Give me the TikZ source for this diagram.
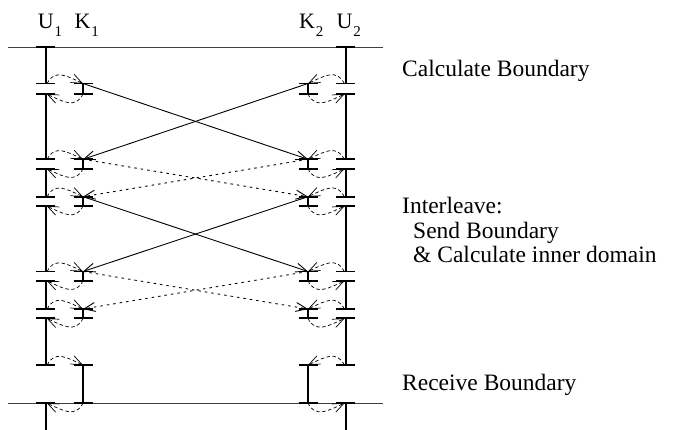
\documentclass[tikz,border=0pt]{standalone}
\usepackage{fontspec}
\setmainfont{Liberation Serif}
\usetikzlibrary{arrows.meta}
\begin{document}
\begin{tikzpicture}[x=1pt,y=1pt,
  rail/.style={line width=0.8pt, black!75},
  bar/.style={line width=1.8pt},
  stem/.style={line width=1.8pt},
  tip/.style={-{Straight Barb[length=11pt,width=9pt]}},
  dcurve/.style={tip, line width=0.7pt, dash pattern=on 3.5pt off 2.5pt},
  sline/.style={tip, line width=0.9pt},
  dline/.style={tip, line width=0.9pt, dash pattern=on 2.5pt off 4pt},
  txt/.style={anchor=base west, inner sep=0pt, font=\fontsize{23.5}{27}\selectfont},
  lab/.style={anchor=base, inner sep=0pt, font=\fontsize{22}{26}\selectfont},
]
\useasboundingbox (0,0) rectangle (693,-430);

\foreach \n/\x in {U1/45.7,K1/83,K2/308,U2/345.7}{
  \foreach \l/\y in {T/47,At/83.5,Ab/94,Bt/159.3,Bb/168.7,Ct/196.7,Cb/206,Dt/271.5,Db/280.7,Et/309,Eb/318.3,F/365,G/403,Z/431}{
    \coordinate (\n\l) at (\x,-\y);
  }
}
\coordinate (railTL) at (8,-47); \coordinate (railTR) at (383,-47);
\coordinate (railBL) at (8,-403); \coordinate (railBR) at (383,-403);
\draw[rail] (railTL) -- (railTR);
\draw[rail] (railBL) -- (railBR);

\foreach \n in {U1,U2}{\foreach \l in {T,At,Ab,Bt,Bb,Ct,Cb,Dt,Db,Et,Eb,F,G}{\draw[bar] ([xshift=-9.5pt]\n\l) -- ([xshift=9.5pt]\n\l);}}
\foreach \n in {K1,K2}{\foreach \l in {At,Ab,Bt,Bb,Ct,Cb,Dt,Db,Et,Eb,F,G}{\draw[bar] ([xshift=-9.5pt]\n\l) -- ([xshift=9.5pt]\n\l);}}

\foreach \n in {U1,U2}{\foreach \a/\b in {T/At,Ab/Bt,Bb/Ct,Cb/Dt,Db/Et,Eb/F,G/Z}{\draw[stem] (\n\a) -- (\n\b);}}
\foreach \n in {K1,K2}{\foreach \a/\b in {At/Ab,Bt/Bb,Ct/Cb,Dt/Db,Et/Eb,F/G}{\draw[stem] (\n\a) -- (\n\b);}}

\foreach \l in {A,B,C,D,E}{
  \draw[dcurve] ([xshift=1.5pt]U1\l t) to[out=65,in=155,looseness=1.2] (K1\l t);
  \draw[dcurve] (K1\l b) to[out=-115,in=-25,looseness=1.2] ([xshift=1pt]U1\l b);
  \draw[dcurve] ([xshift=-1.5pt]U2\l t) to[out=115,in=25,looseness=1.2] (K2\l t);
  \draw[dcurve] (K2\l b) to[out=-65,in=-155,looseness=1.2] ([xshift=-1pt]U2\l b);
}
\draw[dcurve] ([xshift=1.5pt]U1F) to[out=65,in=155,looseness=1.2] (K1F);
\draw[dcurve] ([xshift=-1.5pt]U2F) to[out=115,in=25,looseness=1.2] (K2F);
\draw[dcurve] (K1G) to[out=-115,in=-25,looseness=1.2] ([xshift=1pt]U1G);
\draw[dcurve] (K2G) to[out=-65,in=-155,looseness=1.2] ([xshift=-1pt]U2G);

\draw[sline] (K1At) -- (K2Bt); \draw[sline] (K2At) -- (K1Bt);
\draw[dline] (K1Bt) -- (K2Ct); \draw[dline] (K2Bt) -- (K1Ct);
\draw[sline] (K1Ct) -- (K2Dt); \draw[sline] (K2Ct) -- (K1Dt);
\draw[dline] (K1Dt) -- (K2Et); \draw[dline] (K2Dt) -- (K1Et);

\node[lab] (lU1) at (45.7,-28.3) {U\rlap{\kern1pt\raisebox{-8.5pt}{\fontsize{15}{15}\selectfont 1}}};
\node[lab] (lK1) at (82.5,-28.3) {K\rlap{\kern1pt\raisebox{-8.5pt}{\fontsize{15}{15}\selectfont 1}}};
\node[lab] (lK2) at (307,-28.3) {K\rlap{\kern1pt\raisebox{-8.5pt}{\fontsize{15}{15}\selectfont 2}}};
\node[lab] (lU2) at (344.5,-28.3) {U\rlap{\kern1pt\raisebox{-8.5pt}{\fontsize{15}{15}\selectfont 2}}};

\node[txt] (tCalc) at (402,-77) {Calculate Boundary};
\node[txt] (tInter) at (402,-214) {Interleave:};
\node[txt] (tSend) at (413,-238.5) {Send Boundary};
\node[txt] (tInner) at (413,-263) {\& Calculate inner domain};
\node[txt] (tRecv) at (402,-390) {Receive Boundary};
\end{tikzpicture}
\end{document}
